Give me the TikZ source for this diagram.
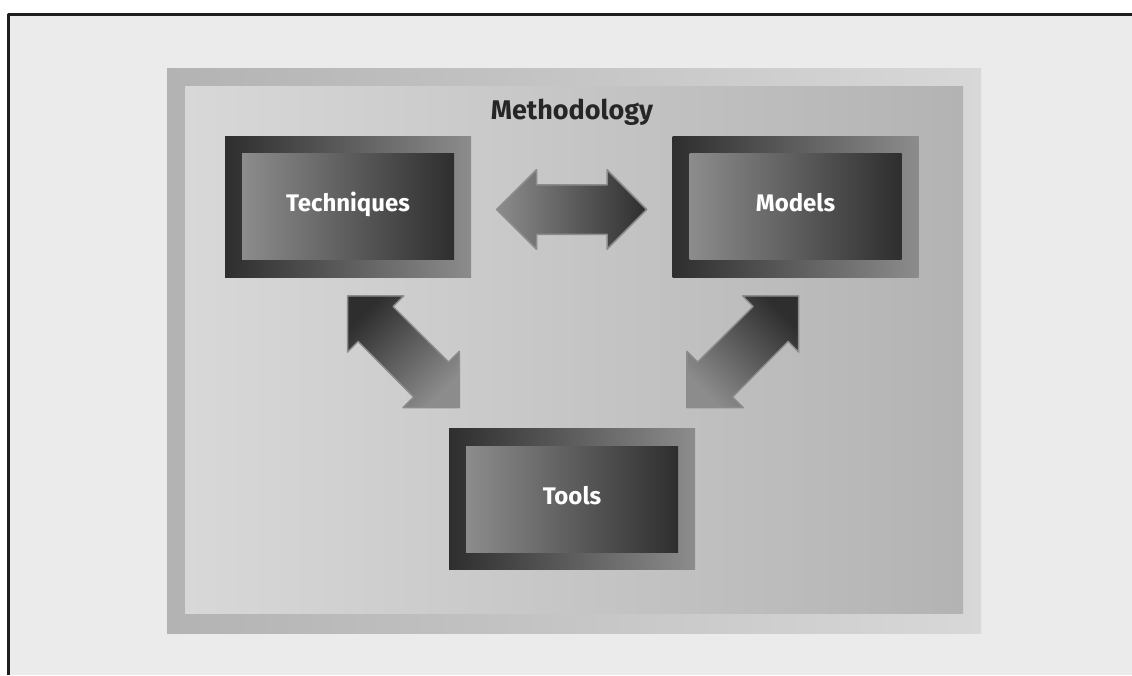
\documentclass[tikz,border=0pt]{standalone}
\usepackage{fontspec}
\setmainfont{Fira Sans}
\usetikzlibrary{shapes.arrows,calc}
\definecolor{bggray}{HTML}{EBEBEB}
\definecolor{framedark}{HTML}{B3B3B3}
\definecolor{framelight}{HTML}{D8D8D8}
\definecolor{boxdark}{HTML}{2E2E2E}
\definecolor{boxlight}{HTML}{8C8C8C}
\definecolor{edgegray}{HTML}{1E1E1E}
\definecolor{titlegray}{HTML}{262626}

\begin{document}
\begin{tikzpicture}[x=1pt,y=-1pt,line join=round,line cap=round]
	\tikzset{outerbox/.style={rectangle,inner sep=0pt,minimum width=246pt,minimum height=141pt,
			left color=boxdark,right color=boxlight},
		innerbox/.style={rectangle,inner sep=0pt,minimum width=212pt,minimum height=106pt,
			text height=16pt,text depth=6pt,
			left color=boxlight,right color=boxdark,text=white,font=\bfseries\fontsize{24}{28}\selectfont},
		linkarrow/.style={double arrow,inner xsep=0pt,inner ysep=24pt,double arrow head extend=15pt,
			draw=black!45,line width=1.5pt}}
	\useasboundingbox (0,0) rectangle (1132,675);
	\fill[bggray] (8,14) rectangle (1132,675);
	\draw[edgegray,line width=3pt,line cap=butt] (8.5,675)--(8.5,14.5)--(1132,14.5);
	% methodology frame
	\shade[left color=framedark,right color=framelight] (167,68) rectangle (981,633);
	\shade[left color=framelight,right color=framedark] (185,86) rectangle (963,613);
	\node[anchor=base,text=titlegray,font=\bfseries\fontsize{27}{30}\selectfont] (title) at (572,119) {Methodology};
	\node[outerbox] (techframe) at (348,206.5) {};
	\node[innerbox] (tech) at (techframe) {Techniques};
	\node[outerbox] (modelframe) at (795.5,206.5) {};
	\node[innerbox] (model) at (modelframe) {Models};
	\node[outerbox] (toolsframe) at (572,499) {};
	\node[innerbox] (tools) at (toolsframe) {Tools};
	% double arrows
	\node[linkarrow,minimum height=150pt,left color=boxlight,right color=boxdark] (techmodel)
		at ($(techframe.east)!0.5!(modelframe.west)+(0,3)$) {};
	\node[linkarrow,minimum height=158pt,rotate=135,top color=boxdark,bottom color=boxlight,
		shading angle=45] (techtools)
		at ($(techframe.south)!0.5!(toolsframe.north west)+(5,-1)$) {};
	\node[linkarrow,minimum height=158pt,rotate=45,top color=boxdark,bottom color=boxlight,
		shading angle=-45] (modeltools)
		at ($(modelframe.south)!0.5!(toolsframe.north east)+(-2.5,-1)$) {};
\end{tikzpicture}
\end{document}
